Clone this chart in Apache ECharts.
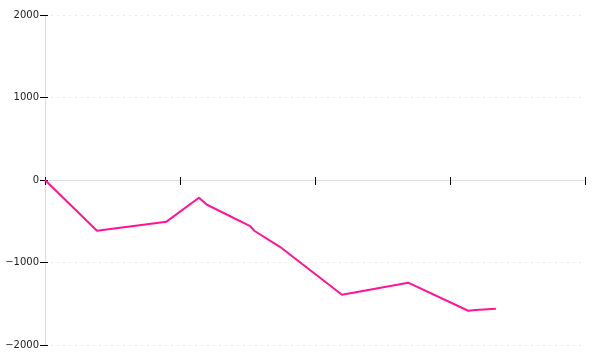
<!DOCTYPE html>
<html>
<head>
<meta charset="utf-8">
<script src="https://cdn.jsdelivr.net/npm/echarts@6/dist/echarts.min.js"></script>
<style>html,body{margin:0;padding:0;background:#fff}#c{width:600px;height:360px}</style>
</head>
<body>
<div id="c"></div>
<script>
const xValues = [0, 3.85, 9.0, 11.4, 12.0, 15.2, 15.5, 17.4, 22.0, 26.9, 31.35, 31.9, 33.4];
const yValues = [0, -615, -505, -215, -300, -560, -615, -810, -1390, -1245, -1585, -1575, -1560];
const yTicks = [-2000, -1000, 0, 1000, 2000];

const points = xValues.map((x, i) => [x, yValues[i]]);
const chart = echarts.init(document.getElementById('c'), null, {renderer: 'canvas'});
const labelFont = {fontFamily: 'DejaVu Sans', fontSize: 10, color: '#222'};
chart.setOption({
  animation: false,
  grid: {left: 45, right: 15, top: 15, bottom: 15, containLabel: false},
  xAxis: [
    {type: 'value', min: 0, max: 40, interval: 10, position: 'bottom',
     axisLine: {show: true, onZero: true, lineStyle: {color: '#ddd', width: 1}},
     axisTick: {show: true, length: 5, lineStyle: {color: '#000'}},
     axisLabel: {show: false}, splitLine: {show: false}},
    {type: 'value', min: 0, max: 40, interval: 10, position: 'bottom',
     axisLine: {show: false, onZero: true},
     axisTick: {show: true, inside: true, length: 3, lineStyle: {color: '#000'}},
     axisLabel: {show: false}, splitLine: {show: false}}
  ],
  yAxis: [
    {type: 'value', min: yTicks[0], max: yTicks[yTicks.length - 1], interval: 1000, position: 'left',
     axisLine: {show: true, onZero: true, lineStyle: {color: '#ddd', width: 1}},
     axisTick: {show: true, length: 5, lineStyle: {color: '#000'}},
     axisLabel: Object.assign({margin: 6, formatter: v => String(v).replace('-', '\u2212')}, labelFont),
     splitLine: {show: true, lineStyle: {color: '#e8e8e8', type: [2, 4]}}},
    {type: 'value', min: yTicks[0], max: yTicks[yTicks.length - 1], interval: 1000, position: 'left',
     axisLine: {show: false, onZero: true},
     axisTick: {show: true, inside: true, length: 3, lineStyle: {color: '#000'}},
     axisLabel: {show: false}, splitLine: {show: false}}
  ],
  series: [{
    type: 'line', xAxisIndex: 0, yAxisIndex: 0, data: points,
    symbol: 'none', lineStyle: {color: '#ff1493', width: 2}
  }]
});
</script>
</body>
</html>
